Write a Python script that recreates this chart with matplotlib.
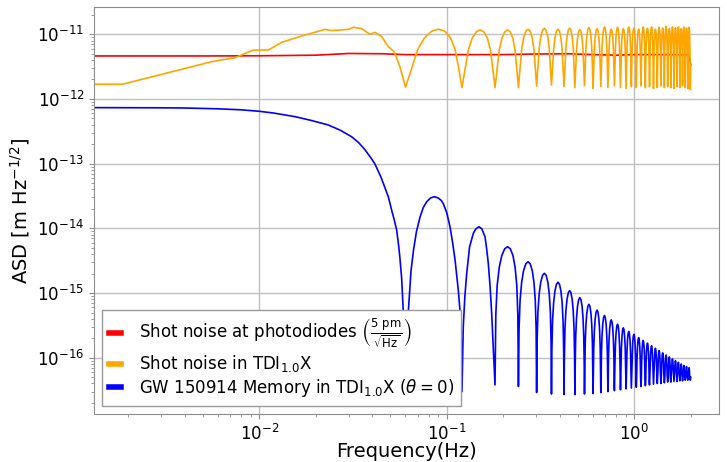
import matplotlib
matplotlib.use("Agg")
import matplotlib.pyplot as plt
import numpy as np

# ---- data ----
# red: shot noise at the photodiodes
red_f = [0.00132, 0.005, 0.01, 0.02, 0.03, 0.045, 0.06, 0.1, 0.2, 0.3,
         0.45, 0.6, 0.8, 1.0, 1.5, 1.95, 2.0]
red_v = [4.62e-12, 4.62e-12, 4.65e-12, 4.75e-12, 5.05e-12, 5.0e-12, 4.85e-12,
         4.85e-12, 4.85e-12, 4.95e-12, 5.0e-12, 4.85e-12, 4.75e-12, 4.85e-12,
         4.85e-12, 4.85e-12, 3.35e-12]

# orange, below the first null
orange_f_low = [0.00132, 0.00187, 0.00558, 0.00743, 0.00931, 0.0112, 0.0132,
                0.01686, 0.02245, 0.0243, 0.0299, 0.0318, 0.0352, 0.0390,
                0.0414, 0.0450, 0.0488, 0.0525, 0.0563, 0.0603]
orange_v_low = [1.69e-12, 1.69e-12, 3.77e-12, 4.35e-12, 5.71e-12, 5.71e-12,
                7.52e-12, 9.4e-12, 1.19e-11, 1.14e-11, 1.19e-11, 1.28e-11,
                1.22e-11, 1.0e-11, 1.07e-11, 9.2e-12, 6.43e-12, 5.38e-12,
                3.16e-12, 1.52e-12]

# blue, roll-off and the first two lobes
blue_f_low = [0.00132, 0.002, 0.003, 0.004, 0.006, 0.008, 0.010, 0.012,
              0.0155, 0.019, 0.0233, 0.027, 0.0311, 0.034, 0.0367, 0.0395,
              0.0414, 0.0445, 0.0465, 0.0488, 0.051, 0.0525, 0.0541, 0.0555,
              0.0562, 0.0575, 0.0586, 0.0595, 0.0603,
              0.0625, 0.0645, 0.0665, 0.069, 0.0721, 0.075, 0.0783, 0.082,
              0.0859, 0.090, 0.0935, 0.0959, 0.100, 0.1041, 0.1075, 0.1107,
              0.1135, 0.1153, 0.1177, 0.1195, 0.1206,
              0.1225, 0.125, 0.1278, 0.1324, 0.1387, 0.143, 0.1486, 0.154,
              0.160, 0.163, 0.1666, 0.1705, 0.1736, 0.1786, 0.1809]
blue_v_low = [7.35e-13, 7.33e-13, 7.3e-13, 7.25e-13, 7.05e-13, 6.8e-13,
              6.45e-13, 6.05e-13, 5.33e-13, 4.65e-13, 3.97e-13, 3.3e-13,
              2.61e-13, 2.1e-13, 1.63e-13, 1.22e-13, 9.9e-14, 6.3e-14,
              4.5e-14, 3.09e-14, 1.85e-14, 1.35e-14, 9.4e-15, 5.2e-15,
              3.65e-15, 1.7e-15, 5.5e-16, 1.5e-16, 2.5e-17,
              5.5e-16, 2.2e-15, 4.6e-15, 9.0e-15, 1.5e-14, 2.1e-14, 2.59e-14,
              2.95e-14, 3.09e-14, 2.95e-14, 2.7e-14, 2.4e-14, 1.75e-14,
              1.06e-14, 6.0e-15, 3.3e-15, 1.7e-15, 1.1e-15, 5.3e-16, 2.0e-16,
              3.0e-17,
              3.0e-16, 9.0e-16, 2.0e-15, 5.2e-15, 8.4e-15, 9.8e-15, 1.06e-14,
              9.8e-15, 7.4e-15, 5.0e-15, 2.88e-15, 1.2e-15, 4.9e-16, 8.2e-17,
              3.8e-17]

# nulls of the TDI response (lobe k runs from null k to null k+1)
null_f = [0.0603, 0.1206, 0.1809, 0.2412, 0.3015, 0.3618, 0.4221, 0.4824,
          0.5427, 0.6030, 0.6633, 0.7236, 0.7839, 0.8442, 0.9045, 0.9648,
          1.0251, 1.0854, 1.1457, 1.2060, 1.2663, 1.3266, 1.3869, 1.4472,
          1.5075, 1.5678, 1.6281, 1.6884, 1.7487, 1.8090, 1.8693, 1.9296,
          1.9899]

# lobe shape read from the wide lobes near 0.1-0.3 Hz (fraction of lobe, level vs. peak)
lobe_pos = [0.03, 0.08, 0.16, 0.26, 0.38, 0.5, 0.62, 0.74, 0.84, 0.92, 0.97]
lobe_rel = [0.09, 0.25, 0.48, 0.73, 0.93, 1.0, 0.93, 0.73, 0.48, 0.25, 0.09]

# orange lobes 1..32: peak level and level at the closing null
orange_peak_v = [1.2e-11, 1.17e-11, 1.17e-11, 1.2e-11, 1.24e-11, 1.2e-11,
                 1.25e-11, 1.18e-11, 1.27e-11, 1.22e-11, 1.3e-11, 1.2e-11,
                 1.28e-11, 1.22e-11, 1.3e-11, 1.25e-11, 1.2e-11, 1.3e-11,
                 1.24e-11, 1.3e-11, 1.2e-11, 1.28e-11, 1.25e-11, 1.32e-11,
                 1.22e-11, 1.3e-11, 1.26e-11, 1.3e-11, 1.22e-11, 1.3e-11,
                 1.25e-11, 1.28e-11]
orange_null_v = [1.5e-12, 1.5e-12, 1.5e-12, 1.58e-12, 1.64e-12, 1.55e-12,
                 1.5e-12, 1.6e-12, 1.45e-12, 1.55e-12, 1.5e-12, 1.6e-12,
                 1.5e-12, 1.45e-12, 1.55e-12, 1.5e-12, 1.6e-12, 1.5e-12,
                 1.55e-12, 1.45e-12, 1.5e-12, 1.6e-12, 1.5e-12, 1.55e-12,
                 1.5e-12, 1.45e-12, 1.55e-12, 1.5e-12, 1.6e-12, 1.5e-12,
                 1.45e-12, 1.4e-12]

# blue lobes 3..32
blue_peak_v = [5.2e-15, 3.05e-15, 2.02e-15, 1.47e-15, 1.09e-15, 8.5e-16,
               6.7e-16, 5.45e-16, 4.5e-16, 3.85e-16, 3.3e-16, 2.9e-16,
               2.55e-16, 2.3e-16, 2.05e-16, 1.85e-16, 1.68e-16, 1.53e-16,
               1.4e-16, 1.29e-16, 1.19e-16, 1.1e-16, 1.03e-16, 9.6e-17,
               9.0e-17, 8.5e-17, 8.0e-17, 7.6e-17, 7.3e-17, 7.0e-17]
blue_null_v = [3.6e-17, 2.9e-17, 2.75e-17, 2.7e-17, 2.7e-17, 2.75e-17,
               2.8e-17, 2.9e-17, 3.0e-17, 3.1e-17, 3.2e-17, 3.3e-17,
               3.4e-17, 3.5e-17, 3.6e-17, 3.7e-17, 3.8e-17, 3.9e-17,
               4.0e-17, 4.0e-17, 4.1e-17, 4.2e-17, 4.2e-17, 4.3e-17,
               4.3e-17, 4.4e-17, 4.4e-17, 4.5e-17, 4.5e-17, 4.5e-17]

f_end = 2.0
orange_end = 3.3e-12
blue_end = 5.0e-17

y_major = [1e-16, 1e-15, 1e-14, 1e-13, 1e-12, 1e-11]


def add_lobes(f, v, first, peak_v, null_v):
    """Append lobes first.. to the curve, shaped with the read-off lobe profile.
    Profile points that would fall below the null level are skipped, so the
    nulls stay sharp V notches."""
    f, v = list(f), list(v)
    for i, (pk, nv) in enumerate(zip(peak_v, null_v)):
        a, b = null_f[first + i - 1], null_f[first + i]
        for p, r in zip(lobe_pos, lobe_rel):
            if r * pk > nv * 1.1:
                f.append(a + p * (b - a))
                v.append(r * pk)
        f.append(b)
        v.append(nv)
    return f, v


orange_f, orange_v = add_lobes(orange_f_low, orange_v_low, 1,
                               orange_peak_v, orange_null_v)
orange_f.append(f_end)
orange_v.append(orange_end)

blue_f, blue_v = add_lobes(blue_f_low, blue_v_low, 3, blue_peak_v, blue_null_v)
blue_f.append(f_end)
blue_v.append(blue_end)

# ---- figure ----
fig = plt.figure(figsize=(7.27, 4.62), dpi=100)
ax = fig.add_axes([94 / 727, 1 - 414 / 462, 625 / 727, 407 / 462])

ax.loglog(red_f, red_v, color='red', lw=1.2,
          label=r'Shot noise at photodiodes $\left(\frac{5\ \mathrm{pm}}{\sqrt{\mathrm{Hz}}}\right)$')
ax.loglog(orange_f, orange_v, color='orange', lw=1.2,
          label=r'Shot noise in TDI$_{1.0}$X')
ax.loglog(blue_f, blue_v, color='blue', lw=1.2,
          label=r'GW 150914 Memory in TDI$_{1.0}$X ($\theta=0$)')

ax.set_xlim(0.001316, 2.83)
ax.set_ylim(1.35e-17, 2.64e-11)
ax.set_yticks(y_major)
ax.yaxis.set_minor_locator(matplotlib.ticker.LogLocator(base=10, subs=np.arange(2, 10), numticks=20))
ax.grid(True, which='major', color='#c0c0c0', lw=1.0)

for sp in ax.spines.values():
    sp.set_color('0.55')
ax.tick_params(which='both', colors='0.55', labelcolor='black', labelsize=12)

ax.set_xlabel('Frequency(Hz)', fontsize=14, labelpad=-1)
ax.set_ylabel(r'ASD [m Hz$^{-1/2}$]', fontsize=14)

leg = ax.legend(loc='lower left', fontsize=12, handlelength=0.7,
                handletextpad=1.1, labelspacing=0.15, borderpad=0.4,
                fancybox=False, framealpha=1, edgecolor='0.6')
for h in leg.legend_handles:
    h.set_linewidth(4)

fig.savefig('out.png', dpi=100)
